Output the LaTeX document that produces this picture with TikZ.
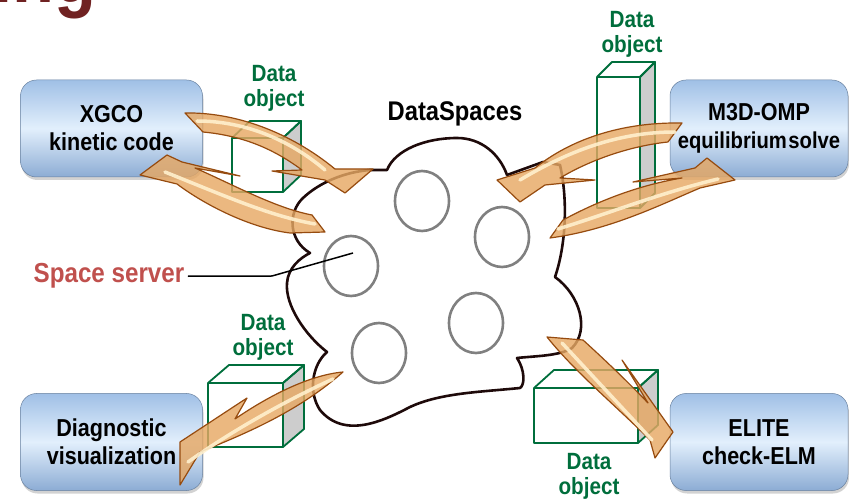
\documentclass[tikz,border=0pt]{standalone}
\usepackage{fontspec}
\setmainfont[FakeStretch=0.88]{Liberation Sans}
\usetikzlibrary{positioning, shapes.geometric, shadows}

\definecolor{boxTop}{RGB}{160,192,230}
\definecolor{boxMid}{RGB}{226,239,252}
\definecolor{boxBot}{RGB}{140,172,212}
\definecolor{dataGreen}{RGB}{0,110,60}
\definecolor{serverRed}{RGB}{192,80,77}
\definecolor{titleRed}{RGB}{112,34,34}
\definecolor{serverGray}{RGB}{128,128,128}
\definecolor{cloudLine}{RGB}{30,10,10}
\definecolor{sideGray}{RGB}{205,205,205}
\definecolor{arrowFill}{RGB}{230,168,100}
\definecolor{arrowEdge}{RGB}{150,75,15}
\definecolor{arrowGlint}{RGB}{255,240,205}

\begin{document}
\begin{tikzpicture}[
      x=1pt, y=-1pt,
      box/.style={rounded corners=16pt, align=center, minimum width=182pt,
                  minimum height=97pt, font=\fontsize{24.5}{28}\selectfont\bfseries,
                  top color=boxTop, bottom color=boxBot, middle color=boxMid,
                  draw=boxBot!75!black, line width=0.5pt,
                  drop shadow={shadow xshift=1pt, shadow yshift=-3pt, fill=black!35}},
      datalbl/.style={align=center, text=dataGreen, font=\fontsize{23.5}{25}\selectfont\bfseries},
      server/.style={draw=serverGray, line width=2.6pt, ellipse,
                     minimum width=54pt, minimum height=60pt},
      blockarrow/.style={fill=arrowFill, fill opacity=0.82, draw=arrowEdge,
                         line width=1.2pt, line join=round},
      glint/.style={draw=arrowGlint, line width=3.5pt, line cap=round, opacity=0.9}
    ]
    \useasboundingbox (0,0) rectangle (849,502);

    % cut-off slide title
    \begin{scope}
      \clip (0,0) rectangle (849,502);
      \node[text=titleRed, anchor=base east, inner sep=0pt,
            font=\fontsize{78}{78}\selectfont\bfseries] (title) at (97,3) {ing};
    \end{scope}

    % the DataSpaces cloud
    \draw[cloudLine, line width=2.6pt, line join=round] (370,170) -- (387,170)
      .. controls (395,150) and (425,138) .. (457,138)
      .. controls (482,138) and (500,155) .. (507,175)
      -- (543,162) -- (560,165)
      .. controls (568,200) and (566,245) .. (555,277)
      .. controls (580,295) and (590,330) .. (572,348)
      .. controls (560,356) and (535,356) .. (517,358)
      .. controls (525,370) and (525,385) .. (520,388)
      .. controls (480,392) and (440,393) .. (410,407)
      .. controls (385,420) and (345,440) .. (320,410)
      .. controls (308,392) and (312,365) .. (327,352)
      .. controls (305,335) and (285,305) .. (287,283)
      .. controls (288,268) and (300,258) .. (310,253)
      .. controls (288,240) and (288,212) .. (303,198)
      .. controls (320,182) and (345,172) .. (370,170) -- cycle;
    \node[font=\fontsize{27}{30}\selectfont\bfseries, anchor=base] (dspaces) at (455,121) {DataSpaces};

    \node[server] (s1) at (422,201) {};
    \node[server] (s2) at (502,237) {};
    \node[server] (s3) at (351,266) {};
    \node[server] (s4) at (476,323) {};
    \node[server] (s5) at (379,353) {};

    % data objects
    \foreach \xa/\ya/\xb/\yb/\dx/\dy in {232/138/283/192/18/17, 597/77/640/208/15/15,
                                         208/383/283/447/21/18, 534/388/638/443/20/18}{
      \filldraw[fill=sideGray, draw=dataGreen, line width=1.8pt, line join=round]
        (\xb,\ya) -- (\xb+\dx,\ya-\dy) -- (\xb+\dx,\yb-\dy) -- (\xb,\yb) -- cycle;
      \draw[dataGreen, line width=1.8pt, line join=round] (\xa,\ya) rectangle (\xb,\yb)
        (\xa,\ya) -- (\xa+\dx,\ya-\dy) -- (\xb+\dx,\ya-\dy) -- (\xb,\ya);
    }
    \node[datalbl] (lbltl) at (274,88) {Data\\object};
    \node[datalbl] (lbltr) at (632,34) {Data\\object};
    \node[datalbl] (lblbl) at (263,337) {Data\\object};
    \node[datalbl] (lblbr) at (589,476) {Data\\object};

    % applications
    \node[box] (xgco) at (111.5,128.5) {XGCO\\kinetic code};
    \node[box, minimum width=178pt, right=467pt of xgco] (m3d)
      {M3D-OMP\\{\fontsize{23}{28}\selectfont equilibrium\hspace{1.5pt}solve}};
    \node[box, below=216pt of xgco] (diag) {Diagnostic\\visualization};
    \node[box, minimum width=178pt, below=216pt of m3d] (elite) {ELITE\\check-ELM};

    % block arrows
    \filldraw[blockarrow] (185,113) .. controls (235,112) and (290,132) .. (335,169)
      -- (373,169) -- (345,193) -- (325,180) -- (272,171) -- (302,170)
      .. controls (275,150) and (245,136) .. (203,132) -- cycle;
    \draw[glint] (197,121) .. controls (245,121) and (290,140) .. (325,170);

    \filldraw[blockarrow] (140,175) -- (167,155) -- (182,162) -- (240,176) -- (195,168)
      .. controls (232,184) and (275,208) .. (312,215) -- (325,232) -- (290,233)
      .. controls (250,228) and (205,205) .. (177,184) -- cycle;
    \draw[glint] (315,224) .. controls (270,216) and (225,196) .. (165,172);

    \filldraw[blockarrow] (682,123) .. controls (620,122) and (570,140) .. (535,168)
      -- (497,180) -- (520,202) -- (545,185) -- (595,180) -- (560,178)
      .. controls (590,160) and (630,146) .. (668,142) -- cycle;
    \draw[glint] (675,132) .. controls (620,132) and (570,150) .. (520,180);

    \filldraw[blockarrow] (563,220) .. controls (600,200) and (640,185) .. (682,178)
      -- (633,182) -- (695,168) -- (707,158) -- (735,180) -- (700,188)
      .. controls (660,205) and (610,230) .. (550,238) -- cycle;
    \draw[glint] (558,229) .. controls (610,213) and (660,193) .. (718,179);

    \filldraw[blockarrow] (343,372) .. controls (310,375) and (270,395) .. (235,419)
      -- (247,398) -- (180,442) -- (180,485) -- (200,452)
      .. controls (250,432) and (300,410) .. (343,372) -- cycle;
    \draw[glint] (333,379) .. controls (300,394) and (240,425) .. (188,462);

    \filldraw[blockarrow] (547,337) -- (583,340) .. controls (605,360) and (628,382) .. (648,403)
      -- (622,360) -- (673,432) -- (655,458) -- (650,440)
      .. controls (615,405) and (575,372) .. (547,337) -- cycle;
    \draw[glint] (562,343) -- (652,440);

    % space server callout
    \node[text=serverRed, font=\fontsize{27.5}{30}\selectfont\bfseries, anchor=base] (spacelbl) at (109,283) {Space server};
    \coordinate (srvpt) at (353,253);
    \draw[line width=1.5pt] (spacelbl.east) -- (272,276) -- (srvpt);
  \end{tikzpicture}
\end{document}
